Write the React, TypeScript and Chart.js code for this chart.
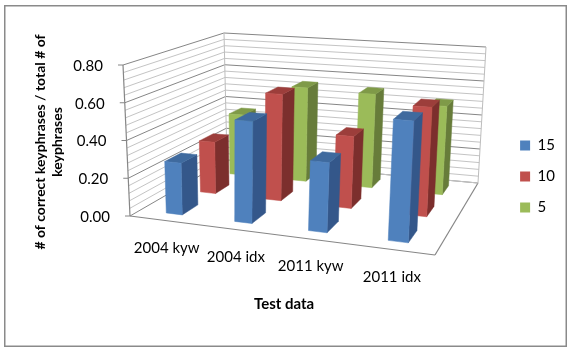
import React, { useEffect, useRef } from "react";
import { Chart, BarController, registerables } from "chart.js";

Chart.register(...registerables);

const categories = ["2004 kyw", "2004 idx", "2011 kyw", "2011 idx"];
const seriesNames = ["15", "10", "5"];
const values15 = [0.275, 0.53, 0.355, 0.6];
const values10 = [0.29, 0.59, 0.39, 0.58];
const values5 = [0.36, 0.55, 0.54, 0.5];
const faceColors = ["#4F81BD", "#C0504D", "#9BBB59"];
const sideColors = ["#34578A", "#7C2F2D", "#677C3A"];
const topColors = ["#3F6A9E", "#9C3E3B", "#7F9A48"];
const FONT = "Lato, 'Open Sans', sans-serif";

type P = [number, number];
// projected frame of the chart box: floor and ceiling corners (front-left, front-right, back-right, back-left)
const FLOOR: P[] = [[130, 216], [435, 255], [478, 183], [227, 160]];
const CEIL: P[] = [[123, 65], [443, 87], [486, 47], [224, 33]];

function quad(q: P[]) {
  const [[x0, y0], [x1, y1], [x2, y2], [x3, y3]] = q;
  const dx1 = x1 - x2, dx2 = x3 - x2, sx = x0 - x1 + x2 - x3;
  const dy1 = y1 - y2, dy2 = y3 - y2, sy = y0 - y1 + y2 - y3;
  const den = dx1 * dy2 - dx2 * dy1;
  const g = (sx * dy2 - dx2 * sy) / den;
  const h = (dx1 * sy - sx * dy1) / den;
  const a = x1 - x0 + g * x1, b = x3 - x0 + h * x3;
  const d = y1 - y0 + g * y1, e = y3 - y0 + h * y3;
  return (u: number, v: number): P => {
    const w = g * u + h * v + 1;
    return [(a * u + b * v + x0) / w, (d * u + e * v + y0) / w];
  };
}
const floorMap = quad(FLOOR);
const ceilMap = quad(CEIL);
function project(u: number, v: number, w: number): P {
  const f = floorMap(u, v), c = ceilMap(u, v);
  return [f[0] + (c[0] - f[0]) * w, f[1] + (c[1] - f[1]) * w];
}
function poly(ctx: CanvasRenderingContext2D, pts: P[], fill: string) {
  ctx.beginPath();
  pts.forEach((p, i) => (i ? ctx.lineTo(p[0], p[1]) : ctx.moveTo(p[0], p[1])));
  ctx.closePath();
  ctx.fillStyle = fill;
  ctx.fill();
  ctx.strokeStyle = fill;
  ctx.lineWidth = 0.5;
  ctx.stroke();
}
function line(ctx: CanvasRenderingContext2D, a: P, b: P, color: string, width = 1) {
  ctx.beginPath();
  ctx.moveTo(a[0], a[1]);
  ctx.lineTo(b[0], b[1]);
  ctx.strokeStyle = color;
  ctx.lineWidth = width;
  ctx.stroke();
}

const BAR_WIDTH = 0.24;
const BAR_DEPTH = 0.15;
const BAR_SHIFT = 0.003;

class Bar3DController extends BarController {
  static id = "bar3d";
  static defaults = BarController.defaults;
  static overrides = BarController.overrides;
  draw() {
    const chart = (this as any).chart;
    const meta = this.getMeta();
    const ctx = chart.ctx;
    const xs = chart.scales.x, ys = chart.scales.y;
    const s = meta.index;
    const data = this.getDataset().data as number[];
    const vc = (s + 0.5) / 3;
    data.forEach((val, i) => {
      const uc = (xs.getPixelForValue(i) - xs.left) / xs.width + BAR_SHIFT;
      const w = (ys.bottom - ys.getPixelForValue(val)) / ys.height;
      const u0 = uc - (BAR_WIDTH / 4) / 2, u1 = uc + (BAR_WIDTH / 4) / 2;
      const v0 = vc - BAR_DEPTH / 2, v1 = vc + BAR_DEPTH / 2;
      poly(ctx, [project(u1, v0, 0), project(u1, v1, 0), project(u1, v1, w), project(u1, v0, w)], sideColors[s]);
      poly(ctx, [project(u0, v0, w), project(u1, v0, w), project(u1, v1, w), project(u0, v1, w)], topColors[s]);
      const a = project(u0, v0, 0), b = project(u1, v0, 0), c = project(u1, v0, w), d = project(u0, v0, w);
      poly(ctx, [a, b, c, d], faceColors[s]);
    });
  }
}
Chart.register(Bar3DController);

const framePlugin = {
  id: "frame",
  afterLayout(chart: any) {
    chart.legend.top -= 15;
    chart.legend.bottom -= 15;
  },
  beforeDraw(chart: any) {
    const ctx = chart.ctx;
    ctx.save();
    ctx.fillStyle = "#ffffff";
    ctx.fillRect(0, 0, chart.width, chart.height);
    ctx.strokeStyle = "#8a8a8a";
    ctx.lineWidth = 1.5;
    ctx.strokeRect(4.75, 5.75, 561.5, 340.5);
    ctx.restore();
  },
  beforeDatasetsDraw(chart: any) {
    const ctx = chart.ctx;
    const ys = chart.scales.y;
    ctx.save();
    ys.ticks.forEach((t: any) => {
      const w = (ys.bottom - ys.getPixelForValue(t.value)) / ys.height;
      const major = Math.abs(t.value * 5 - Math.round(t.value * 5)) < 1e-6;
      const col = major ? "#868686" : "#c4c4c4";
      line(ctx, project(0, 0, w), project(0, 1, w), col);
      line(ctx, project(0, 1, w), project(1, 1, w), col);
    });
    line(ctx, project(0, 1, 0), project(0, 1, 1), "#bdbdbd");
    line(ctx, project(1, 1, 0), project(1, 1, 1), "#bdbdbd");
    line(ctx, project(0, 0, 0), project(0, 0, 1), "#868686", 1.2);
    line(ctx, project(0, 0, 0), project(1, 0, 0), "#868686", 1.2);
    line(ctx, project(1, 0, 0), project(1, 1, 0), "#868686", 1.2);
    line(ctx, project(1, 1, 0), project(0, 1, 0), "#c4c4c4");
    ctx.fillStyle = "#000";
    ctx.font = `15px ${FONT}`;
    ctx.textAlign = "right";
    ctx.textBaseline = "middle";
    ys.ticks.forEach((t: any) => {
      const major = Math.abs(t.value * 5 - Math.round(t.value * 5)) < 1e-6;
      if (!major) return;
      const w = (ys.bottom - ys.getPixelForValue(t.value)) / ys.height;
      const p = project(0, 0, w);
      line(ctx, [p[0] - 5, p[1]], p, "#868686");
      ctx.fillStyle = "#000";
      ctx.fillText(t.value.toFixed(2), p[0] - 20, p[1] + 1);
    });
    const xs = chart.scales.x;
    ctx.textAlign = "center";
    categories.forEach((c, i) => {
      const u = (xs.getPixelForValue(i) - xs.left) / xs.width;
      const p = project(u, 0, 0);
      ctx.fillText(c, p[0] + 4 * (1 - u), p[1] + 27.5);
    });
    ctx.restore();
  },
};

export default function App() {
  const ref = useRef<HTMLCanvasElement>(null);
  useEffect(() => {
    const chart = new Chart(ref.current!, {
      type: "bar3d" as any,
      data: {
        labels: categories,
        datasets: [values15, values10, values5].map((d, i) => ({
          label: seriesNames[i],
          data: d,
          backgroundColor: faceColors[i],
          borderWidth: 0,
          clip: false,
        })) as any,
      },
      plugins: [framePlugin],
      options: {
        responsive: false,
        animation: false,
        layout: { padding: { left: 28, right: 5, top: 66, bottom: 35 } },
        plugins: {
          tooltip: { enabled: false },
          legend: {
            position: "right",
            labels: {
              boxWidth: 10,
              boxHeight: 10,
              padding: 16,
              color: "#000",
              font: { family: FONT, size: 15 },
            },
          },
        },
        scales: {
          x: {
            type: "category",
            grid: { display: false },
            border: { display: false },
            ticks: { display: false },
            title: { display: true, text: "Test data", color: "#000", font: { family: FONT, size: 15, weight: "bold" } },
            afterFit: (s: any) => { s.height = 99; },
          },
          y: {
            type: "linear",
            min: 0,
            max: 0.8,
            grid: { display: false },
            border: { display: false },
            ticks: { display: false, stepSize: 0.04 },
            title: {
              display: true,
              text: ["# of correct keyphrases / total # of", "keyphrases"],
              color: "#000",
              font: { family: FONT, size: 14, weight: "bold" },
            },
            afterFit: (s: any) => { s.width = 36; },
          },
        },
      } as any,
    });
    return () => chart.destroy();
  }, []);
  return (
    <div style={{ position: "fixed", left: 0, top: 0, width: 570, height: 352 }}>
      <canvas ref={ref} width={570} height={352} style={{ display: "block" }} />
    </div>
  );
}
